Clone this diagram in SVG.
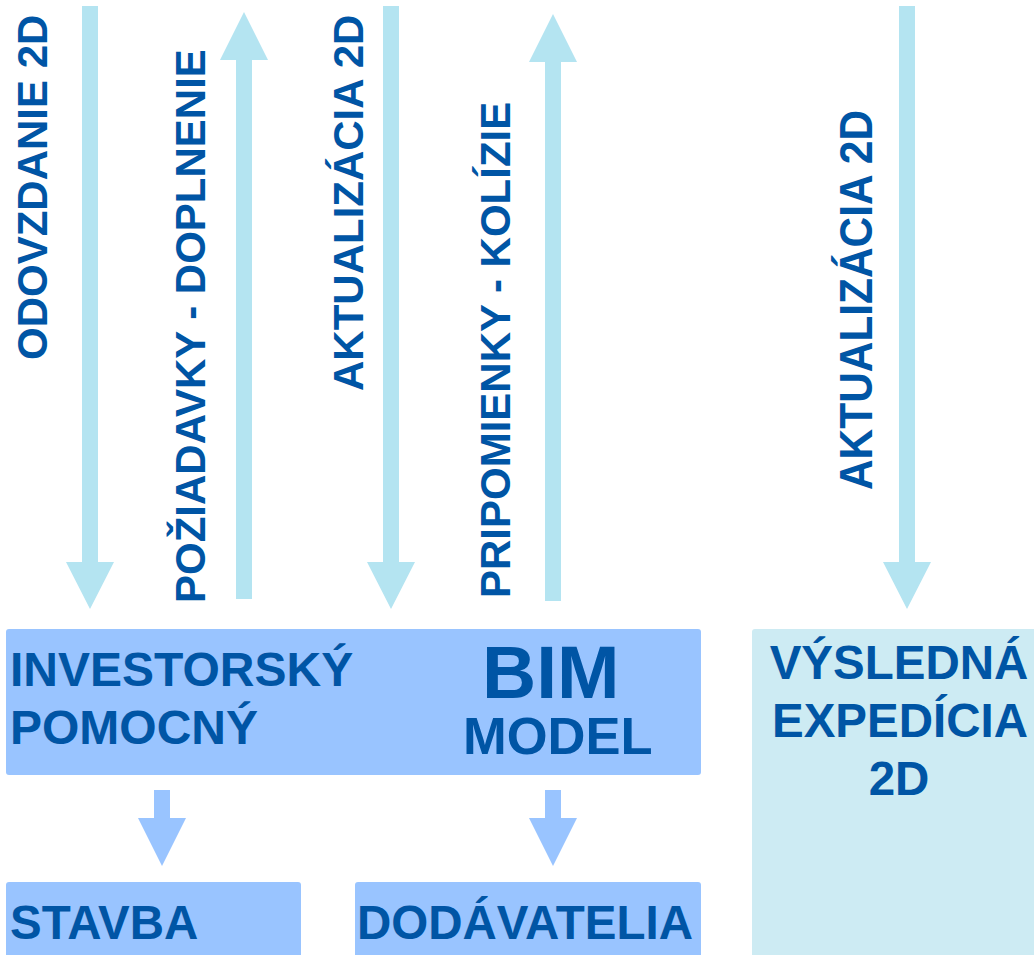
<svg xmlns="http://www.w3.org/2000/svg" width="1034" height="955" viewBox="0 0 1034 955">
<style>
.t{font-family:"Liberation Sans",Arial,sans-serif;font-weight:bold;fill:#0055a5}
.arr{fill:#b4e4f1}
.sarr{fill:#99c4ff}
.box{fill:#99c4ff}
.box2{fill:#cdebf3}
</style>
<rect width="1034" height="955" fill="#ffffff"/>
<g id="connectors">
<polygon class="arr" points="82,6 98,6 98,562 114,562 90,609 66,562 82,562"/>
<polygon class="arr" points="244,12 268,60 252,60 252,599 236,599 236,60 220,60"/>
<polygon class="arr" points="383,6 399,6 399,562 415,562 391,609 367,562 383,562"/>
<polygon class="arr" points="553,14 577,62 561,62 561,601 545,601 545,62 529,62"/>
<polygon class="arr" points="899,6 915,6 915,562 931,562 907,609 883,562 899,562"/>
<polygon class="sarr" points="154,790 170,790 170,818 186,818 162,866 138,818 154,818"/>
<polygon class="sarr" points="545,790 561,790 561,818 577,818 553,866 529,818 545,818"/>
<text class="t" font-size="42" transform="translate(47,360) rotate(-90)">ODOVZDANIE 2D</text>
<text class="t" font-size="42" transform="translate(205,603) rotate(-90)">POŽIADAVKY - DOPLNENIE</text>
<text class="t" font-size="42" transform="translate(363,391) rotate(-90)">AKTUALIZÁCIA 2D</text>
<text class="t" font-size="42" transform="translate(510,598) rotate(-90)">PRIPOMIENKY - KOLÍZIE</text>
<text class="t" font-size="47" textLength="380" lengthAdjust="spacingAndGlyphs" transform="translate(872,490) rotate(-90)">AKTUALIZÁCIA 2D</text>
</g>
<g id="model">
<rect class="box" x="6" y="629" width="695" height="146" rx="3"/>
<text class="t" font-size="48" x="10" y="686">INVESTORSKÝ</text>
<text class="t" font-size="48" x="10" y="744">POMOCNÝ</text>
<text class="t" font-size="75" x="482" y="698">BIM</text>
<text class="t" font-size="52.5" x="463" y="754">MODEL</text>
</g>
<g id="stavba">
<rect class="box" x="6" y="882" width="295" height="80" rx="3"/>
<text class="t" font-size="47.5" x="10" y="939">STAVBA</text>
</g>
<g id="dodavatelia">
<rect class="box" x="355" y="882" width="346" height="80" rx="3"/>
<text class="t" font-size="47.5" x="357" y="939">DODÁVATELIA</text>
</g>
<g id="expedicia">
<rect class="box2" x="752" y="629" width="290" height="340" rx="3"/>
<text class="t" font-size="47.5" x="899" y="679" text-anchor="middle">VÝSLEDNÁ</text>
<text class="t" font-size="47.5" x="900" y="737" text-anchor="middle">EXPEDÍCIA</text>
<text class="t" font-size="47.5" x="899" y="795" text-anchor="middle">2D</text>
</g>
</svg>
